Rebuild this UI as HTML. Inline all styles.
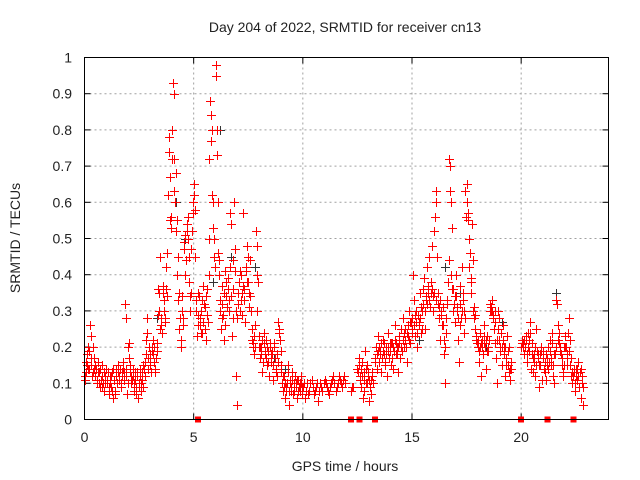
<!DOCTYPE html>
<html><head><meta charset="utf-8"><style>
html,body{margin:0;padding:0;background:#fff}
svg{display:block;font-family:"Liberation Sans",sans-serif}
</style></head><body>
<svg id="chart" width="640" height="480" viewBox="0 0 640 480" xmlns="http://www.w3.org/2000/svg">
<rect x="0" y="0" width="640" height="480" fill="#fff"/>
<text x="345" y="32" text-anchor="middle" font-size="14" fill="#222">Day 204 of 2022, SRMTID for receiver cn13</text>
<g id="grid"></g>
<g id="ticks"></g>
<g id="marks" shape-rendering="crispEdges"></g>
<rect x="84.5" y="57.5" width="524" height="362" fill="none" stroke="#000" stroke-width="1"/>
<text x="345" y="471" text-anchor="middle" font-size="14" fill="#222">GPS time / hours</text>
<text transform="translate(20,238) rotate(-90)" text-anchor="middle" font-size="14" fill="#222">SRMTID / TECUs</text>
</svg>
<script>
const xTicks=[0,5,10,15,20];
const yTicks=[0,0.1,0.2,0.3,0.4,0.5,0.6,0.7,0.8,0.9,1];
const yTickLabels=["0","0.1","0.2","0.3","0.4","0.5","0.6","0.7","0.8","0.9","1"];
const redT=[0,.05,.1,.12,.15,.2,.25,.28,.3,.35,.4,.45,.5,.55,.6,.65,.7,.75,.8,.85,.9,.95,
1,1.05,1.1,1.15,1.2,1.25,1.3,1.35,1.4,1.45,1.5,1.55,1.6,1.65,1.7,1.75,1.8,1.85,1.88,1.9,1.95,
2,2.05,2.1,2.15,2.2,2.25,2.3,2.35,2.4,2.45,2.5,2.55,2.6,2.65,2.7,2.75,2.8,2.85,2.88,2.9,2.95,
3,3.05,3.1,3.15,3.2,3.25,3.3,3.35,3.4,3.45,3.5,3.55,3.6,3.65,3.7,3.75,3.8,3.82,3.85,3.88,3.9,3.95,
4,4.05,4.08,4.1,4.12,4.15,4.2,4.25,4.3,4.35,4.4,4.45,4.5,4.55,4.6,4.65,4.7,4.75,4.8,4.85,4.9,4.95,
5,5.05,5.1,5.15,5.2,5.25,5.3,5.35,5.4,5.45,5.5,5.55,5.6,5.65,5.7,5.72,5.75,5.8,5.85,5.9,5.95,
6,6.02,6.05,6.08,6.1,6.15,6.2,6.25,6.3,6.35,6.4,6.45,6.5,6.55,6.6,6.65,6.7,6.75,6.8,6.85,6.9,6.95,6.98,
7,7.05,7.1,7.15,7.2,7.25,7.3,7.35,7.4,7.45,7.5,7.55,7.6,7.65,7.7,7.75,7.8,7.85,7.9,7.95,
8,8.05,8.1,8.15,8.2,8.25,8.3,8.35,8.4,8.45,8.5,8.55,8.6,8.65,8.7,8.75,8.8,8.85,8.9,8.95,
9,9.05,9.1,9.15,9.2,9.25,9.3,9.35,9.4,9.45,9.5,9.55,9.6,9.65,9.7,9.75,9.8,9.85,9.9,9.95,
10,10.1,10.2,10.3,10.4,10.5,10.6,10.7,10.8,10.9,11,11.1,11.2,11.3,11.4,11.5,11.6,11.7,11.8,11.9,
12.2,12.3,12.5,12.55,12.6,12.65,12.7,12.75,12.8,12.85,12.9,12.95,13,13.05,13.1,13.15,13.2,
13.3,13.35,13.4,13.45,13.5,13.55,13.6,13.65,13.7,13.75,13.8,13.85,13.9,13.95,
14,14.05,14.1,14.15,14.2,14.25,14.3,14.35,14.4,14.45,14.5,14.55,14.6,14.65,14.7,14.75,14.8,14.85,14.9,14.95,
15,15.05,15.1,15.15,15.2,15.25,15.3,15.35,15.4,15.45,15.5,15.55,15.6,15.65,15.7,15.75,15.8,15.85,15.9,15.95,
16,16.05,16.1,16.12,16.15,16.2,16.25,16.3,16.35,16.4,16.45,16.5,16.55,16.6,16.65,16.7,16.72,16.75,16.8,16.85,16.9,16.95,
17,17.05,17.1,17.15,17.2,17.25,17.3,17.35,17.4,17.45,17.5,17.55,17.6,17.65,17.7,17.75,17.8,17.85,17.9,17.95,
18,18.05,18.1,18.15,18.2,18.25,18.3,18.35,18.4,18.45,18.5,18.55,18.6,18.65,18.7,18.75,18.8,18.85,18.9,18.95,
19,19.05,19.1,19.15,19.2,19.25,19.3,19.35,19.4,19.45,19.5,19.55,
20,20.05,20.1,20.15,20.2,20.25,20.3,20.35,20.4,20.45,20.5,20.55,20.6,20.65,20.7,20.75,20.8,20.85,20.9,20.95,
21,21.05,21.1,21.15,21.2,21.25,21.3,21.35,21.4,21.45,21.5,21.55,21.6,21.65,21.7,21.75,21.8,21.85,21.9,21.95,
22,22.05,22.1,22.15,22.2,22.25,22.3,22.35,22.4,22.45,22.5,22.55,22.6,22.65,22.7,22.75,22.8,22.85];
const redV=[.12,.13,.18,.15,.2,.14,.26,.23,.17,.12,.2,.14,.15,.1,.16,.13,.09,.11,.15,.1,.08,.12,
.14,.1,.07,.12,.09,.13,.06,.11,.08,.14,.1,.15,.12,.09,.13,.16,.11,.32,.28,.14,.07,
.2,.17,.13,.1,.12,.08,.11,.09,.13,.06,.1,.14,.08,.11,.15,.12,.18,.28,.24,.14,.2,
.17,.13,.2,.22,.16,.14,.19,.36,.3,.45,.26,.24,.37,.33,.28,.42,.46,.62,.74,.78,.67,.56,
.8,.93,.9,.72,.63,.6,.52,.4,.33,.25,.2,.34,.28,.49,.51,.44,.54,.56,.38,.3,.47,.6,
.65,.58,.33,.23,.29,.34,.26,.3,.24,.37,.31,.22,.36,.27,.5,.72,.88,.84,.62,.53,.45,
.95,.98,.8,.73,.6,.44,.33,.25,.37,.29,.22,.41,.34,.39,.3,.57,.54,.23,.36,.6,.47,.12,.04,
.28,.35,.41,.33,.29,.57,.36,.27,.42,.48,.38,.31,.44,.22,.2,.18,.26,.52,.48,.38,
.23,.17,.2,.13,.24,.18,.22,.15,.19,.12,.21,.16,.18,.11,.2,.14,.12,.27,.25,.22,
.15,.1,.08,.12,.06,.09,.15,.04,.11,.08,.13,.07,.1,.12,.09,.06,.11,.08,.1,.07,
.09,.06,.1,.08,.11,.07,.09,.05,.1,.08,.11,.09,.07,.1,.12,.08,.1,.11,.09,.12,
.08,.09,.14,.17,.12,.09,.16,.06,.11,.19,.14,.1,.13,.05,.07,.12,.1,
.17,.2,.14,.23,.16,.19,.13,.22,.18,.15,.2,.12,.24,.17,
.19,.15,.21,.14,.26,.18,.2,.13,.23,.17,.25,.19,.28,.2,.22,.16,.26,.3,.21,.27,
.25,.4,.33,.23,.3,.2,.27,.35,.24,.3,.36,.39,.25,.33,.42,.37,.45,.35,.48,.3,
.52,.56,.63,.6,.45,.35,.28,.22,.3,.26,.18,.1,.24,.33,.38,.72,.7,.63,.6,.53,.36,.27,
.4,.31,.22,.16,.37,.28,.42,.33,.24,.63,.65,.57,.5,.46,.39,.54,.44,.31,.29,.23,
.2,.16,.24,.12,.22,.18,.26,.2,.14,.23,.19,.32,.3,.33,.29,.25,.21,.17,.1,.3,
.22,.19,.15,.26,.2,.12,.17,.23,.15,.13,.11,.16,
.2,.22,.21,.18,.23,.16,.24,.19,.27,.14,.21,.13,.18,.12,.25,.17,.09,.15,.19,.11,
.19,.14,.13,.11,.17,.14,.22,.15,.24,.12,.1,.18,.33,.32,.26,.21,.19,.15,.12,.2,
.23,.2,.17,.24,.28,.15,.12,.1,.13,.08,.14,.11,.16,.09,.13,.06,.12,.04];
const red2T=[.02,.08,.17,.22,.32,.38,.42,.48,.52,.58,.62,.68,.72,.78,.82,.88,.92,.98,
1.02,1.08,1.12,1.18,1.22,1.28,1.32,1.38,1.42,1.48,1.52,1.58,1.62,1.68,1.72,1.78,1.82,1.92,1.98,
2.02,2.08,2.12,2.18,2.22,2.28,2.32,2.38,2.42,2.48,2.52,2.58,2.62,2.68,2.72,2.78,2.82,2.92,2.98,
3.02,3.08,3.12,3.18,3.22,3.28,3.32,3.38,3.42,3.48,3.52,3.58,3.62,3.68,3.72,3.78,3.92,3.98,
4.02,4.18,4.22,4.28,4.32,4.38,4.42,4.48,4.52,4.58,4.62,4.68,4.72,4.78,4.82,4.88,4.92,4.98,
5.02,5.08,5.12,5.18,5.22,5.28,5.32,5.38,5.42,5.48,5.52,5.58,5.62,5.68,5.78,5.82,5.88,5.92,5.98,
6.12,6.18,6.22,6.28,6.32,6.38,6.42,6.48,6.52,6.58,6.62,6.68,6.72,6.78,6.82,6.88,6.92,
7.02,7.08,7.12,7.18,7.22,7.28,7.32,7.38,7.42,7.48,7.52,7.58,7.62,7.68,7.72,7.78,7.82,7.88,7.92,7.98,
8.02,8.08,8.12,8.18,8.22,8.28,8.32,8.38,8.42,8.48,8.52,8.58,8.62,8.68,8.72,8.78,8.82,8.88,8.92,8.98,
9.02,9.08,9.12,9.18,9.22,9.28,9.32,9.38,9.42,9.48,9.52,9.58,9.62,9.68,9.72,9.78,9.82,9.88,9.92,9.98,
10.05,10.15,10.25,10.35,10.45,10.55,10.65,10.75,10.85,10.95,11.05,11.15,11.25,11.35,11.45,11.55,11.65,11.75,11.85,11.95,
12.25,12.52,12.58,12.62,12.68,12.72,12.78,12.82,12.88,12.92,12.98,13.02,13.08,13.12,13.18,
13.32,13.38,13.42,13.48,13.52,13.58,13.62,13.68,13.72,13.78,13.82,13.88,13.92,13.98,
14.02,14.08,14.12,14.18,14.22,14.28,14.32,14.38,14.42,14.48,14.52,14.58,14.62,14.68,14.72,14.78,14.82,14.88,14.92,14.98,
15.02,15.08,15.12,15.18,15.22,15.28,15.32,15.38,15.42,15.48,15.52,15.58,15.62,15.68,15.72,15.78,15.82,15.88,15.92,15.98,
16.02,16.08,16.18,16.22,16.28,16.32,16.38,16.42,16.48,16.52,16.58,16.62,16.68,16.78,16.82,16.88,16.92,16.98,
17.02,17.08,17.12,17.18,17.22,17.28,17.32,17.38,17.42,17.48,17.52,17.58,17.62,17.68,17.72,17.78,17.82,17.88,17.92,17.98,
18.02,18.08,18.12,18.18,18.22,18.28,18.32,18.38,18.42,18.48,18.52,18.58,18.62,18.68,18.72,18.78,18.82,18.88,18.92,18.98,
19.02,19.08,19.12,19.18,19.22,19.28,19.32,19.38,19.42,19.48,19.52,
20.02,20.08,20.12,20.18,20.22,20.28,20.32,20.38,20.42,20.48,20.52,20.58,20.62,20.68,20.72,20.78,20.82,20.88,20.92,20.98,
21.02,21.08,21.12,21.18,21.22,21.28,21.32,21.38,21.42,21.48,21.52,21.58,21.68,21.72,21.78,21.82,21.88,21.92,21.98,
22.02,22.08,22.12,22.18,22.22,22.28,22.32,22.38,22.42,22.48,22.52,22.58,22.62,22.68,22.72,22.78,22.82];
const red2V=[.11,.16,.14,.19,.15,.13,.17,.12,.14,.11,.13,.1,.14,.09,.12,.13,.1,.14,
.11,.13,.09,.1,.12,.08,.14,.07,.12,.1,.13,.11,.14,.1,.12,.14,.13,.12,.1,
.21,.15,.12,.11,.14,.1,.13,.07,.12,.09,.12,.1,.13,.09,.14,.16,.22,.17,.18,
.15,.19,.18,.2,.13,.17,.21,.29,.35,.25,.28,.35,.3,.27,.36,.34,.55,.53,
.72,.68,.55,.45,.35,.28,.22,.3,.26,.47,.4,.52,.5,.45,.34,.35,.52,.57,
.62,.45,.3,.26,.35,.28,.24,.33,.27,.32,.25,.34,.29,.4,.77,.8,.6,.5,.42,
.46,.4,.3,.32,.28,.35,.26,.38,.31,.36,.33,.42,.34,.28,.44,.41,.3,
.32,.38,.3,.4,.35,.37,.33,.41,.38,.45,.35,.34,.3,.25,.21,.23,.2,.3,.4,.2,
.2,.18,.22,.16,.21,.19,.17,.2,.16,.2,.18,.19,.15,.21,.17,.13,.18,.16,.24,.19,
.13,.12,.09,.1,.08,.1,.13,.08,.1,.09,.11,.08,.12,.1,.11,.08,.09,.1,.12,.09,
.1,.08,.07,.1,.09,.08,.1,.08,.09,.1,.1,.08,.09,.11,.1,.09,.12,.1,.11,.1,
.09,.13,.15,.11,.14,.12,.13,.08,.1,.15,.12,.11,.09,.11,.13,
.16,.18,.19,.2,.18,.21,.17,.19,.21,.16,.18,.2,.19,.21,
.21,.17,.2,.19,.22,.21,.18,.2,.21,.2,.19,.22,.24,.25,.2,.24,.23,.22,.27,.24,
.28,.26,.29,.27,.24,.29,.26,.28,.31,.25,.32,.3,.34,.32,.35,.33,.31,.38,.36,.34,
.35,.33,.32,.31,.33,.29,.26,.31,.22,.2,.28,.32,.44,.4,.36,.3,.32,.34,
.34,.3,.28,.26,.32,.3,.35,.3,.28,.56,.6,.55,.42,.38,.35,.3,.28,.25,.22,.21,
.22,.19,.2,.21,.2,.21,.23,.22,.19,.2,.22,.3,.31,.3,.28,.3,.27,.22,.25,.28,
.2,.24,.2,.22,.18,.2,.15,.19,.2,.14,.14,
.21,.2,.22,.2,.22,.18,.2,.22,.24,.18,.17,.16,.2,.15,.19,.18,.15,.18,.2,.17,
.17,.16,.18,.15,.2,.16,.19,.17,.21,.15,.18,.2,.22,.24,.2,.18,.17,.13,.15,
.2,.15,.18,.19,.22,.17,.13,.12,.14,.1,.12,.14,.12,.13,.14,.1,.09];
const greyT=[3.3,4.2,4.6,5.9,6.2,6.7,7.1,7.8,8.7,9.2,15.3,16.5,17.2,18.4,19.1,20.6,21.6];
const greyV=[.28,.6,.5,.38,.8,.45,.3,.42,.17,.14,.22,.42,.35,.2,.27,.17,.35];
const squareT=[5.2,12.2,12.6,13.3,20,21.2,22.4];
const X0=84.5,X1=608.5,Y0=419.5,Y1=57.5,XMAX=24;
const sx=t=>X0+(X1-X0)*t/XMAX;
const sy=v=>Y0-(Y0-Y1)*v;
const NS="http://www.w3.org/2000/svg";
const mk=(tag,at,parent)=>{const e=document.createElementNS(NS,tag);for(const k in at)e.setAttribute(k,at[k]);parent.appendChild(e);return e;};
const grid=document.getElementById('grid'),ticks=document.getElementById('ticks'),marks=document.getElementById('marks');
xTicks.forEach(t=>{
  const x=sx(t);
  if(t>0){const g=mk('line',{x1:x,x2:x,y1:Y1,y2:Y0,stroke:'#a0a0a0','stroke-dasharray':'2,3'},grid);
  
  }
  mk('line',{x1:x,x2:x,y1:Y0,y2:Y0-6,stroke:'#000'},ticks);
  mk('line',{x1:x,x2:x,y1:Y1,y2:Y1+6,stroke:'#000'},ticks);
  const l=mk('text',{x:x,y:442,'text-anchor':'middle','font-size':14,fill:'#222'},ticks);
  l.textContent=String(t);
  
  
});
yTicks.forEach((v,i)=>{
  const y=sy(v);
  if(v>0&&v<1){const g=mk('line',{x1:X0,x2:X1,y1:y,y2:y,stroke:'#a0a0a0','stroke-dasharray':'2,3'},grid);
  
  }
  mk('line',{x1:X0,x2:X0+6,y1:y,y2:y,stroke:'#000'},ticks);
  mk('line',{x1:X1,x2:X1-6,y1:y,y2:y,stroke:'#000'},ticks);
  const l=mk('text',{x:72,y:y+5,'text-anchor':'end','font-size':14,fill:'#222'},ticks);
  l.textContent=yTickLabels[i];
  
  
});
function plus(t,v,col,name){
  const x=Math.round(sx(t)),y=Math.round(sy(v));
  const p=mk('path',{d:`M${x-4},${y+.5}H${x+5}M${x+.5},${y-4}V${y+5}`,stroke:col,'stroke-width':1,fill:'none'},marks);
  
  
}
greyT.forEach((t,i)=>plus(t,greyV[i],'#333333','grey-point'));
red2T.forEach((t,i)=>plus(t,red2V[i],'#ff0000','red-point'));
redT.forEach((t,i)=>plus(t,redV[i],'#ff0000','red-point'));
squareT.forEach(t=>{
  const r=mk('rect',{x:sx(t)-3,y:Y0-3,width:6,height:6,fill:'#ff0000'},marks);
  
  
});
</script>
</body></html>
